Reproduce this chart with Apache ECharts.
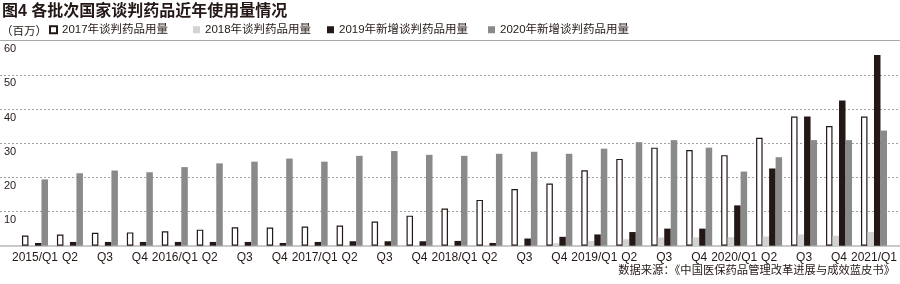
<!DOCTYPE html>
<html><head><meta charset="utf-8">
<script src="https://cdn.jsdelivr.net/npm/echarts@6/dist/echarts.min.js"></script>
<style>html,body{margin:0;padding:0;background:#fff}#c{width:900px;height:284px}</style>
</head><body><div id="c"></div>
<script>
var categories = ['2015/Q1','2015/Q2','2015/Q3','2015/Q4','2016/Q1','2016/Q2','2016/Q3','2016/Q4','2017/Q1','2017/Q2','2017/Q3','2017/Q4','2018/Q1','2018/Q2','2018/Q3','2018/Q4','2019/Q1','2019/Q2','2019/Q3','2019/Q4','2020/Q1','2020/Q2','2020/Q3','2020/Q4','2021/Q1'];
var tickLabels = ['2015/Q1','Q2','Q3','Q4','2016/Q1','Q2','Q3','Q4','2017/Q1','Q2','Q3','Q4','2018/Q1','Q2','Q3','Q4','2019/Q1','Q2','Q3','Q4','2020/Q1','Q2','Q3','Q4','2021/Q1'];
var yTicks = [0,10,20,30,40,50,60];
var s2017 = [3.0,3.3,3.8,3.9,4.2,4.7,5.4,5.3,5.6,5.9,7.1,8.8,10.9,13.4,16.6,18.2,22.1,25.4,28.7,28.0,26.5,31.6,37.8,35.0,37.8];
var s2018 = [0,0,0,0,0,0,0,0,0,0,0,0,0,0,0,0.7,1.4,1.9,2.4,2.4,2.5,2.7,3.3,2.9,4.0];
var s2019 = [0.8,1.1,1.1,1.1,1.1,1.1,1.1,0.8,1.1,1.3,1.3,1.3,1.4,0.8,2.1,2.6,3.3,4.0,5.0,5.0,11.8,22.6,37.8,42.5,55.8];
var s2020 = [19.4,21.2,22.0,21.5,23.0,24.1,24.6,25.5,24.6,26.3,27.7,26.6,26.3,26.9,27.5,26.9,28.4,30.3,30.9,28.7,21.7,25.9,30.9,30.9,33.7];
var seriesNames = ['2017年谈判药品用量','2018年谈判药品用量','2019年新增谈判药品用量','2020年新增谈判药品用量'];

var FF = 'Liberation Sans, Arial, Noto Sans CJK SC, sans-serif';
var TXT = '#231815';
var chart = echarts.init(document.getElementById('c'), null, {renderer:'canvas'});
var TOP = 40.7, BOTTOM = 38.3;
var bw = 6.5;
function bar(name, data, style){
  return {name:name, type:'bar', xAxisIndex:2, yAxisIndex:1, data:data, barWidth:bw, barGap:'0%', itemStyle:style, emphasis:{disabled:true}, animation:false};
}
var legendLefts = [49, 193, 327, 488];
var legends = seriesNames.map(function(n, i){
  return {left:legendLefts[i], top:24, itemWidth:7, itemHeight:7, icon:'rect', padding:0, itemGap:0,
    textStyle:{fontSize:11.5, color:TXT, fontFamily:FF, padding:[0,0,0,0]}, data:[n]};
});
chart.setOption({
  animation:false,
  title:{text:'图4 各批次国家谈判药品近年使用量情况', left:2, top:4, padding:0, textStyle:{fontSize:16, fontWeight:'bold', color:TXT, fontFamily:FF}},
  legend:legends,
  graphic:[
    {type:'text', left:1, top:26, style:{text:'（百万）', font:'11.5px '+FF, fill:TXT}},
    {type:'text', right:5, top:265, style:{text:'数据来源：《中国医保药品管理改革进展与成效蓝皮书》', font:'11.3px '+FF, fill:TXT}}
  ],
  grid:[
    {left:0, right:0, top:TOP, bottom:BOTTOM},
    {left:17.5, right:8.5, top:TOP, bottom:BOTTOM}
  ],
  xAxis:[
    {type:'value', gridIndex:0, position:'bottom', min:0, max:1, axisLine:{show:true, lineStyle:{color:'#c9c9c9', width:2}}, axisTick:{show:false}, axisLabel:{show:false}, splitLine:{show:false}},
    {type:'value', gridIndex:0, position:'top', min:0, max:1, axisLine:{show:true, lineStyle:{color:'#aaaaaa', width:1}}, axisTick:{show:false}, axisLabel:{show:false}, splitLine:{show:false}},
    {type:'category', gridIndex:1, data:categories, boundaryGap:true, axisLine:{show:false}, axisTick:{show:false},
      axisLabel:{interval:0, margin:6, fontSize:12, color:TXT, fontFamily:FF, formatter:function(v,i){return tickLabels[i];}}}
  ],
  yAxis:[
    {type:'value', gridIndex:0, min:yTicks[0], max:yTicks[yTicks.length-1], interval:10, axisLine:{show:false}, axisTick:{show:false},
      axisLabel:{show:true, inside:true, align:'left', verticalAlign:'top', margin:4, padding:[3,0,0,0], fontSize:11, color:TXT, fontFamily:FF,
        formatter:function(v){return v===0?'':String(v);}},
      splitLine:{show:true, lineStyle:{color:'#a0a0a0', type:[2,2], width:1}}},
    {type:'value', gridIndex:1, min:yTicks[0], max:yTicks[yTicks.length-1], interval:10, show:false, splitLine:{show:false}}
  ],
  series:[
    bar(seriesNames[0], s2017, {color:'#ffffff', borderColor:TXT, borderWidth:1.2}),
    bar(seriesNames[1], s2018, {color:'#d3d3d3'}),
    bar(seriesNames[2], s2019, {color:'#231815'}),
    bar(seriesNames[3], s2020, {color:'#8a8a8a'})
  ]
});
</script></body></html>
